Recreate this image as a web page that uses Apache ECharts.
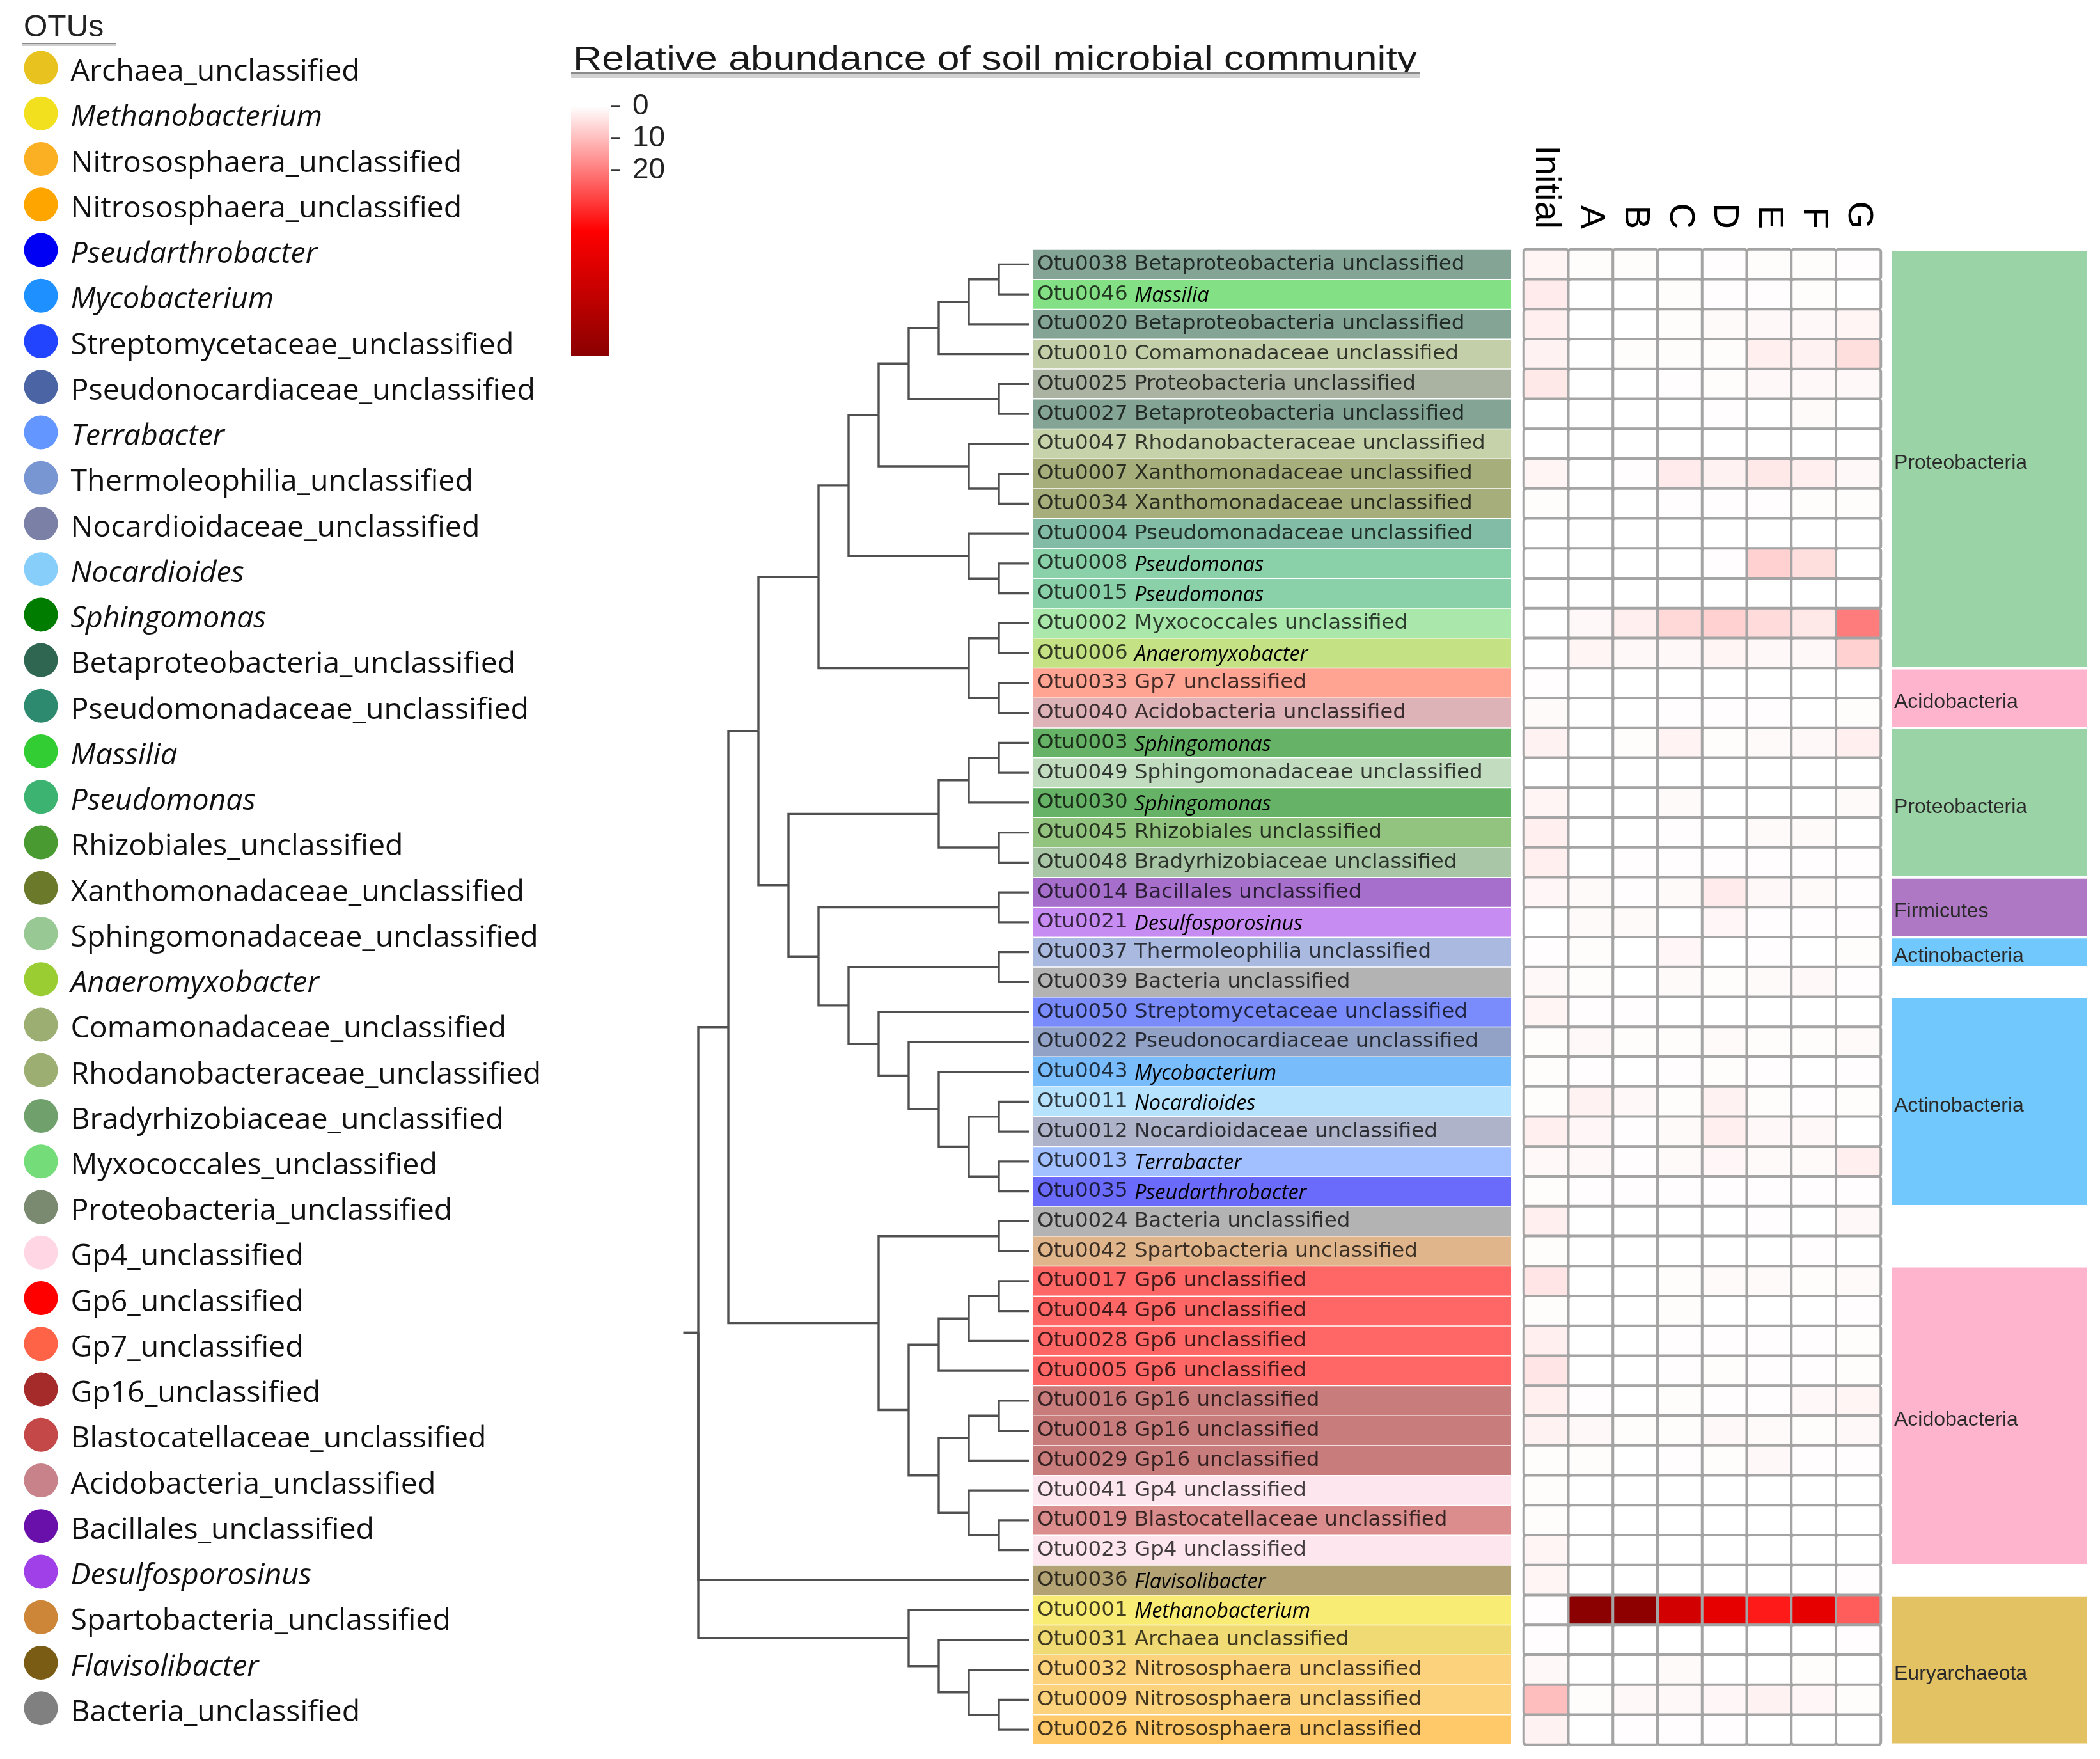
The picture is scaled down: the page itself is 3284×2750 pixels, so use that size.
<!DOCTYPE html>
<html><head><meta charset="utf-8">
<script src="https://cdn.jsdelivr.net/npm/echarts@6/dist/echarts.min.js"></script>
<style>html,body{margin:0;padding:0;background:#fff}#c{width:3284px;height:2750px}</style>
</head><body><div id="c"></div>
<script>
// ---------------- DATA ----------------
const samples = ['Initial','A','B','C','D','E','F','G'];
const otuIds = ['Otu0038','Otu0046','Otu0020','Otu0010','Otu0025','Otu0027','Otu0047','Otu0007','Otu0034','Otu0004',
  'Otu0008','Otu0015','Otu0002','Otu0006','Otu0033','Otu0040','Otu0003','Otu0049','Otu0030','Otu0045',
  'Otu0048','Otu0014','Otu0021','Otu0037','Otu0039','Otu0050','Otu0022','Otu0043','Otu0011','Otu0012',
  'Otu0013','Otu0035','Otu0024','Otu0042','Otu0017','Otu0044','Otu0028','Otu0005','Otu0016','Otu0018',
  'Otu0029','Otu0041','Otu0019','Otu0023','Otu0036','Otu0001','Otu0031','Otu0032','Otu0009','Otu0026'];
const otuTaxa = ['Betaproteobacteria unclassified','Massilia','Betaproteobacteria unclassified','Comamonadaceae unclassified',
  'Proteobacteria unclassified','Betaproteobacteria unclassified','Rhodanobacteraceae unclassified','Xanthomonadaceae unclassified',
  'Xanthomonadaceae unclassified','Pseudomonadaceae unclassified','Pseudomonas','Pseudomonas','Myxococcales unclassified',
  'Anaeromyxobacter','Gp7 unclassified','Acidobacteria unclassified','Sphingomonas','Sphingomonadaceae unclassified',
  'Sphingomonas','Rhizobiales unclassified','Bradyrhizobiaceae unclassified','Bacillales unclassified','Desulfosporosinus',
  'Thermoleophilia unclassified','Bacteria unclassified','Streptomycetaceae unclassified','Pseudonocardiaceae unclassified',
  'Mycobacterium','Nocardioides','Nocardioidaceae unclassified','Terrabacter','Pseudarthrobacter','Bacteria unclassified',
  'Spartobacteria unclassified','Gp6 unclassified','Gp6 unclassified','Gp6 unclassified','Gp6 unclassified',
  'Gp16 unclassified','Gp16 unclassified','Gp16 unclassified','Gp4 unclassified','Blastocatellaceae unclassified',
  'Gp4 unclassified','Flavisolibacter','Methanobacterium','Archaea unclassified','Nitrososphaera unclassified',
  'Nitrososphaera unclassified','Nitrososphaera unclassified'];

// relative abundance (%) per sample, rows in otuIds order
const initialVals = [1.5,3,2.5,2,3.5,0,0,1.5,0.5,0, 0,0,0,0,0.3,0.8,2,0,1.5,2.5, 2.5,1.2,0,0.3,1,1.5,0.5,0.5,0.5,2.5, 1,0.5,2.5,0.5,4,0.5,2.5,4,2.5,2, 0.5,0.5,0.5,1.5,1.5,0.3,0.3,1,10,2];
const aVals = [0.5,0,0,0,0,0,0,0,0,0, 0,0,1,1.5,0,0,0,0,0,0, 0,0.8,0.8,0.5,0.5,0.3,1,0.3,2,1.2, 1,0.3,0,0,0,0,0,0,0.3,1, 0.5,0,0,0,0,78,0,0,0.5,0];
const bVals = [0.5,0,0,0.5,0,0,0,0.3,0,0, 0,0,2.5,1,0,0,0.5,0,0,0, 0.3,0.3,0.8,0,0,0.3,0.5,0,1,0.3, 0.3,0.3,0,0,0,0,0,0,0,0.5, 0,0,0,0,0,77,0,0,1,0.3];
const cVals = [0,0.5,0.5,0.5,0.3,0,0,3,0.3,0, 0,0,6,1,0,0.3,1.8,0,0.8,0.3, 0.3,0.8,0,1.2,0.8,0,0.5,0.3,0.5,0.8, 0.8,0.3,0,0,0.5,0.5,0.3,0.3,0.5,0.5, 0.3,0,0,0,0,54,0,0.8,1,0.3];
const dVals = [0.3,0.3,0.8,0.5,0.5,0.3,0,2,0.3,0, 0.3,0,7,1.5,0,0.3,0.5,0,0,0, 0.3,3,1.2,0,0.5,0,0.8,0.5,2,2.5, 1.2,0.3,0,0,0.8,0,0.3,0.5,0.3,1, 0.5,0,0,0,0,47,0,0,1.2,0.3];
const eVals = [0.5,0.3,1,2.5,1,0,0,3.5,0.3,0, 7,0,5.5,1,0,0.3,0.8,0,0,0.8, 0.3,1,0.3,0.3,0.8,0,0.5,0.3,0.5,1, 0.8,0.3,0.3,0,0.8,0,0.3,0.3,0.3,0.8, 1,0,0,0,0,35,0,0,2,0];
const fVals = [0.5,0.5,1,2,1,0.8,0,2.5,0.5,0, 5,0,3.5,1,0,0,1,0,0,0.8, 0.3,0.8,0.3,0,1,0,0.5,0,0.3,1, 0.8,0.3,0,0.3,0.5,0,0.3,0.3,1,0.5, 0.3,0,0,0,0,47,0,0.5,1.2,0];
const gVals = [0.3,0,1.5,5,1,0,0,1,0.5,0, 0,0,20,7,0,0.5,2.5,0,0.8,0, 0.3,0.3,0.3,0.5,0.3,0,0.8,0.3,0.5,0, 2.5,0.3,1,0,0.8,0.3,0.5,0.5,1.5,1, 0.3,0,0,0,0.3,25,0.3,0,0.5,0];
const sampleValues = [initialVals, aVals, bVals, cVals, dVals, eVals, fVals, gVals];

const colorScaleMin = 0, colorScaleMax = 78;
const colorbarTicks = [0, 10, 20];

const phylumNames = ['Proteobacteria','Acidobacteria','Proteobacteria','Firmicutes','Actinobacteria','Actinobacteria','Acidobacteria','Euryarchaeota'];
const phylumFirstRow = [0, 14, 16, 21, 23, 25, 34, 45];
const phylumLastRow  = [13, 15, 20, 22, 23, 31, 43, 49];

const legendNames = ['Archaea_unclassified','Methanobacterium','Nitrososphaera_unclassified','Nitrososphaera_unclassified',
  'Pseudarthrobacter','Mycobacterium','Streptomycetaceae_unclassified','Pseudonocardiaceae_unclassified','Terrabacter',
  'Thermoleophilia_unclassified','Nocardioidaceae_unclassified','Nocardioides','Sphingomonas','Betaproteobacteria_unclassified',
  'Pseudomonadaceae_unclassified','Massilia','Pseudomonas','Rhizobiales_unclassified','Xanthomonadaceae_unclassified',
  'Sphingomonadaceae_unclassified','Anaeromyxobacter','Comamonadaceae_unclassified','Rhodanobacteraceae_unclassified',
  'Bradyrhizobiaceae_unclassified','Myxococcales_unclassified','Proteobacteria_unclassified','Gp4_unclassified',
  'Gp6_unclassified','Gp7_unclassified','Gp16_unclassified','Blastocatellaceae_unclassified','Acidobacteria_unclassified',
  'Bacillales_unclassified','Desulfosporosinus','Spartobacteria_unclassified','Flavisolibacter','Bacteria_unclassified'];

// cladogram: [level, child, child, ...]; leaves are OTU ids
const tree = [11,
  [10,
    [9,
      [7,
        [6,
          [5,
            [4, [3, [2, [1, 'Otu0038', 'Otu0046'], 'Otu0020'], 'Otu0010'], [1, 'Otu0025', 'Otu0027']],
            [2, 'Otu0047', [1, 'Otu0007', 'Otu0034']]
          ],
          [2, 'Otu0004', [1, 'Otu0008', 'Otu0015']]
        ],
        [2, [1, 'Otu0002', 'Otu0006'], [1, 'Otu0033', 'Otu0040']]
      ],
      [8,
        [3, [2, [1, 'Otu0003', 'Otu0049'], 'Otu0030'], [1, 'Otu0045', 'Otu0048']],
        [7,
          [1, 'Otu0014', 'Otu0021'],
          [6,
            [1, 'Otu0037', 'Otu0039'],
            [5, 'Otu0050', [4, 'Otu0022', [3, 'Otu0043', [2, [1, 'Otu0011', 'Otu0012'], [1, 'Otu0013', 'Otu0035']]]]]
          ]
        ]
      ]
    ],
    [5,
      [1, 'Otu0024', 'Otu0042'],
      [4,
        [3, [2, [1, 'Otu0017', 'Otu0044'], 'Otu0028'], 'Otu0005'],
        [3, [2, [1, 'Otu0016', 'Otu0018'], 'Otu0029'], [2, 'Otu0041', [1, 'Otu0019', 'Otu0023']]]
      ]
    ]
  ],
  'Otu0036',
  [4, 'Otu0001', [3, 'Otu0031', [2, 'Otu0032', [1, 'Otu0009', 'Otu0026']]]]
];

// ---------------- STYLES ----------------
const heatColors = ['#ffffff', '#ff0000', '#8b0000'];
const legendColors = ['#e8c21e','#f2e01e','#fab022','#ffa500','#0000f5','#1e90ff','#2244ff','#4a64a4','#6496ff',
  '#7896d2','#7a80a6','#87cefa','#007d00','#2f6652','#2e8a6e','#32cd32','#3cb371','#4a9a32','#6b7a2a','#98c894',
  '#9acd32','#9cae72','#9cae72','#70a06c','#74dc78','#7a8a70','#ffd6e4','#ff0000','#ff6347','#a52a2a','#c44848',
  '#c8828a','#6a10aa','#a040e8','#cd8538','#7a5c14','#808080'];
const bandColors = {
  'Betaproteobacteria unclassified':'#84a596','Massilia':'#84e084','Comamonadaceae unclassified':'#c3cfa9',
  'Proteobacteria unclassified':'#aab3a2','Rhodanobacteraceae unclassified':'#c5d2aa','Xanthomonadaceae unclassified':'#a6ae7c',
  'Pseudomonadaceae unclassified':'#82bca6','Pseudomonas':'#8ad1a9','Myxococcales unclassified':'#a9e8aa',
  'Anaeromyxobacter':'#c4e184','Gp7 unclassified':'#ffa393','Acidobacteria unclassified':'#deb3b8','Sphingomonas':'#66b266',
  'Sphingomonadaceae unclassified':'#c2dcc0','Rhizobiales unclassified':'#92c47f','Bradyrhizobiaceae unclassified':'#a9c6a7',
  'Bacillales unclassified':'#a56fcb','Desulfosporosinus':'#c78cf2','Thermoleophilia unclassified':'#aab9df',
  'Bacteria unclassified':'#b3b3b3','Streptomycetaceae unclassified':'#7a8cfc','Pseudonocardiaceae unclassified':'#92a2c6',
  'Mycobacterium':'#78bcfc','Nocardioides':'#b7e2fd','Nocardioidaceae unclassified':'#aeb3c9','Terrabacter':'#a2c0ff',
  'Pseudarthrobacter':'#6b6bfb','Spartobacteria unclassified':'#e1b58b','Gp6 unclassified':'#ff6666',
  'Gp16 unclassified':'#c97c7c','Gp4 unclassified':'#fde6ee','Blastocatellaceae unclassified':'#db8d8d',
  'Flavisolibacter':'#b3a274','Methanobacterium':'#f8ec74','Archaea unclassified':'#f0da74',
  'Nitrososphaera unclassified':'#fdd27c'
};
const bandColorById = {'Otu0026':'#ffc96a'};
const phylumColors = {'Proteobacteria':'#9ad3a5','Acidobacteria':'#feb4cd','Firmicutes':'#ae78c4','Actinobacteria':'#71c8fc','Euryarchaeota':'#e2c263'};

// ---------------- LAYOUT ----------------
const ROW_TOP = 390, ROW_H = 46.75, NROW = otuIds.length, GRID_H = ROW_H * NROW;
const N_LEG = legendNames.length, LEG_Y0 = 106, LEG_DY = 71.24;
const isGenus = s => s.indexOf('unclassified') < 0;

// cladogram segments through the tree structure
const segs = [];
function walk(n) {
  if (typeof n === 'string') return {lv: 0, y: otuIds.indexOf(n)};
  const lv = n[0];
  const kids = n.slice(1).map(walk);
  const y = (kids[0].y + kids[kids.length - 1].y) / 2;
  kids.forEach(k => segs.push([lv, y, k.lv, k.y]));
  return {lv, y};
}
const rootNode = walk(tree);
segs.push([rootNode.lv + 0.5, rootNode.y, rootNode.lv, rootNode.y]);

const heatData = [];
sampleValues.forEach((arr, j) => arr.forEach((v, i) => heatData.push([j, i, v])));

const chart = echarts.init(document.getElementById('c'), null, {renderer: 'canvas'});
const rowAxisVal = (gi) => ({gridIndex: gi, type: 'value', min: -0.5, max: NROW - 0.5, inverse: true, show: false});

chart.setOption({
  animation: false,
  backgroundColor: '#ffffff',
  grid: [
    {left: 2383, top: ROW_TOP, width: 558, height: GRID_H, outerBoundsMode: 'none'},          // 0 heatmap
    {left: 1615, top: ROW_TOP, width: 748, height: GRID_H, outerBoundsMode: 'none'},          // 1 label band
    {left: 1045, top: ROW_TOP, width: 564, height: GRID_H, outerBoundsMode: 'none'},          // 2 dendrogram
    {left: 2959, top: ROW_TOP, width: 304, height: GRID_H, outerBoundsMode: 'none'},          // 3 phylum
    {left: 0, top: LEG_Y0 - 0.5 * LEG_DY, width: 128, height: N_LEG * LEG_DY, outerBoundsMode: 'none'}, // 4 legend
    {left: 893, top: 166, width: 60, height: 390, outerBoundsMode: 'none'}                   // 5 colour bar
  ],
  xAxis: [
    {gridIndex: 0, type: 'category', data: samples, position: 'top',
      axisLine: {show: false}, axisTick: {show: false}, splitLine: {show: false},
      axisLabel: {interval: 0, rotate: 90, margin: 32, fontSize: 56, fontFamily: 'Liberation Sans', color: '#000'}},
    {gridIndex: 1, type: 'value', min: 0, max: 1, show: false},
    {gridIndex: 2, type: 'value', min: 0, max: 12, inverse: true, show: false},
    {gridIndex: 3, type: 'value', min: 0, max: 1, show: false},
    {gridIndex: 4, type: 'value', min: 0, max: 1, show: false},
    {gridIndex: 5, type: 'value', min: 0, max: 1, show: false}
  ],
  yAxis: [
    {gridIndex: 0, type: 'category', data: otuIds, inverse: true, show: false},
    {gridIndex: 1, type: 'category', data: otuIds, inverse: true, show: false},
    rowAxisVal(2),
    rowAxisVal(3),
    {gridIndex: 4, type: 'value', min: -0.5, max: N_LEG - 0.5, inverse: true, show: false},
    {gridIndex: 5, type: 'value', min: colorScaleMin, max: colorScaleMax, inverse: true, position: 'right', offset: 3,
      axisLine: {show: false}, splitLine: {show: false}, axisTick: {show: false},
      axisLabel: {show: true, customValues: colorbarTicks, margin: 33, fontSize: 46, fontFamily: 'Liberation Sans', color: '#222'}}
  ],
  visualMap: {
    type: 'continuous', seriesIndex: 0, dimension: 2, min: colorScaleMin, max: colorScaleMax,
    inRange: {color: heatColors}, show: false
  },
  series: [
    {
      type: 'heatmap', xAxisIndex: 0, yAxisIndex: 0, data: heatData,
      itemStyle: {borderColor: '#a4a4a4', borderWidth: 4, borderRadius: 4},
      emphasis: {disabled: true}
    },
    {
      type: 'bar', xAxisIndex: 1, yAxisIndex: 1, barCategoryGap: '3%',
      data: otuIds.map((id, i) => ({value: 1, itemStyle: {color: bandColorById[id] || bandColors[otuTaxa[i]]}})),
      label: {
        show: true, position: 'insideLeft', distance: 7,
        fontFamily: 'DejaVu Sans', fontSize: 32.5, color: 'rgba(0,0,0,0.74)',
        formatter: p => {
          const t = otuTaxa[p.dataIndex];
          return '{id|' + otuIds[p.dataIndex] + '} ' + (isGenus(t) ? '{it|' + t + '}' : '{tx|' + t + '}');
        },
        rich: {
          id: {fontFamily: 'DejaVu Sans', fontSize: 32.5, color: 'rgba(0,0,0,0.74)'},
          tx: {fontFamily: 'DejaVu Sans', fontSize: 32.5, color: 'rgba(0,0,0,0.74)'},
          it: {fontFamily: 'Open Sans', fontStyle: 'italic', fontSize: 32.5, color: '#000', padding: [6, 0, 0, 0]}
        }
      },
      emphasis: {disabled: true}
    },
    {
      type: 'custom', xAxisIndex: 2, yAxisIndex: 2, data: segs, clip: false,
      encode: {x: [0, 2], y: [1, 3]},
      renderItem: (params, api) => {
        const a = api.coord([api.value(0), api.value(1)]);
        const b = api.coord([api.value(0), api.value(3)]);
        const c = api.coord([api.value(2), api.value(3)]);
        return {type: 'polyline', shape: {points: [a, b, c]},
          style: {stroke: '#505050', lineWidth: 3.4, fill: null, lineJoin: 'miter'}};
      },
      emphasis: {disabled: true}
    },
    {
      type: 'custom', xAxisIndex: 3, yAxisIndex: 3, clip: false,
      data: phylumNames.map((n, i) => [phylumFirstRow[i], phylumLastRow[i], i]),
      encode: {y: [0, 1]},
      renderItem: (params, api) => {
        const name = phylumNames[api.value(2)];
        const p0 = api.coord([0, api.value(0) - 0.5]);
        const p1 = api.coord([1, api.value(1) + 0.5]);
        return {type: 'group', children: [
          {type: 'rect', shape: {x: p0[0], y: p0[1] + 2, width: p1[0] - p0[0], height: p1[1] - p0[1] - 4},
            style: {fill: phylumColors[name]}},
          {type: 'text', x: p0[0] + 3, y: (p0[1] + p1[1]) / 2 + 7,
            style: {text: name, fill: '#2a2a2a', font: '32px "Liberation Sans"', verticalAlign: 'middle', align: 'left'}}
        ]};
      },
      emphasis: {disabled: true}
    },
    {
      type: 'scatter', xAxisIndex: 4, yAxisIndex: 4, symbol: 'circle', symbolSize: 53,
      itemStyle: {opacity: 1},
      data: legendNames.map((n, i) => ({value: [0.5, i], itemStyle: {color: legendColors[i], opacity: 1}})),
      label: {
        show: true, position: 'right', distance: 20, padding: [14, 0, 0, 0],
        fontFamily: 'Open Sans', fontSize: 46.5, color: '#111',
        formatter: p => {
          const n = legendNames[p.dataIndex];
          return n.indexOf('_') < 0 ? '{it|' + n + '}' : n;
        },
        rich: {it: {fontFamily: 'Open Sans', fontStyle: 'italic', fontSize: 46.5, color: '#111'}}
      },
      emphasis: {disabled: true}
    },
    {
      // colour bar, driven by the same colour stops / scale as the heatmap
      type: 'custom', xAxisIndex: 5, yAxisIndex: 5, clip: false,
      data: [[colorScaleMin, colorScaleMax]],
      renderItem: (params, api) => {
        const p0 = api.coord([0, api.value(0)]);
        const p1 = api.coord([1, api.value(1)]);
        return {type: 'rect', shape: {x: p0[0], y: p0[1], width: p1[0] - p0[0], height: p1[1] - p0[1]},
          style: {fill: new echarts.graphic.LinearGradient(0, 0, 0, 1,
            heatColors.map((c, k) => ({offset: k / (heatColors.length - 1), color: c})))}};
      },
      silent: true
    },
    {
      // colour bar tick dashes
      type: 'custom', xAxisIndex: 5, yAxisIndex: 5, clip: false,
      data: colorbarTicks.map(v => [1, v]),
      renderItem: (params, api) => {
        const p = api.coord([api.value(0), api.value(1)]);
        return {type: 'line', shape: {x1: p[0] + 3, y1: p[1], x2: p[0] + 16, y2: p[1]},
          style: {stroke: '#333', lineWidth: 3.5}};
      },
      silent: true
    }
  ],
  graphic: [
    {type: 'text', x: 37, y: 44, style: {text: 'OTUs', font: '48px "Liberation Sans"', fill: '#222', verticalAlign: 'middle'}},
    {type: 'rect', shape: {x: 34, y: 67, width: 148, height: 2}, style: {fill: '#8a8a8a'}},
    {type: 'rect', shape: {x: 34, y: 69, width: 148, height: 3}, style: {fill: '#cfcfcf'}},
    {type: 'text', x: 896, y: 95, scaleX: 1.25, scaleY: 1.05, style: {text: 'Relative abundance of soil microbial community',
      font: '50px "Liberation Sans"', fill: '#1a1a1a', verticalAlign: 'middle'}},
    {type: 'rect', shape: {x: 893, y: 112, width: 1328, height: 3}, style: {fill: '#8a8a8a'}},
    {type: 'rect', shape: {x: 893, y: 115, width: 1328, height: 7}, style: {fill: '#d2d2d2'}}
  ]
});
</script></body></html>
